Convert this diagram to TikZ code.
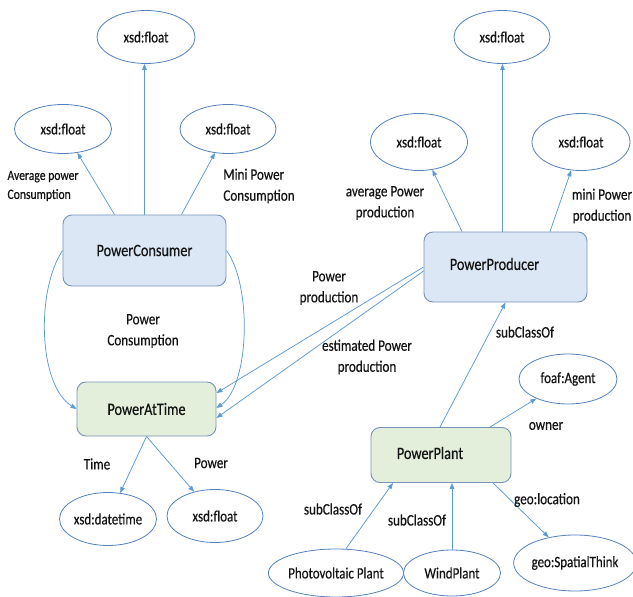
\documentclass[tikz,border=0pt]{standalone}
\usepackage{fontspec}
\setmainfont{Carlito}[FakeStretch=0.82,FakeBold=0.4]
\usetikzlibrary{shapes.geometric,arrows.meta,calc}
\definecolor{bluefill}{RGB}{220,231,245}
\definecolor{greenfill}{RGB}{227,239,218}
\definecolor{boxline}{RGB}{118,148,188}
\definecolor{ellline}{RGB}{84,130,190}
\definecolor{arrcol}{RGB}{91,155,213}
\definecolor{txt}{RGB}{20,20,20}
\tikzset{
  classbox/.style={draw=boxline, line width=0.9pt, rounded corners=9pt, inner sep=0pt, text=txt, font=\fontsize{17.4}{20}\selectfont},
  bluebox/.style={classbox, fill=bluefill},
  greenbox/.style={classbox, fill=greenfill},
  valell/.style={ellipse, draw=ellline, line width=0.8pt, fill=white, inner sep=0pt, text=txt, font=\fontsize{15.8}{18}\selectfont},
  lbl/.style={inner sep=0pt, text=txt, align=center, font=\fontsize{16}{21}\selectfont},
  lbll/.style={lbl, align=left},
  smalllbl/.style={inner sep=0pt, text=txt, align=left, font=\fontsize{14.2}{19}\selectfont},
  arr/.style={draw=arrcol, line width=0.75pt, -{Triangle[length=6pt,width=4.5pt]}},
}
\begin{document}
\begin{tikzpicture}[x=1pt,y=-1pt]
\useasboundingbox[fill=white] (0,0) rectangle (633,597);
% value ellipses, consumer side
\node[valell, minimum width=98pt, minimum height=53pt] (ftop) at (146,37) {xsd:float};
\node[valell, minimum width=97pt, minimum height=49pt] (fl) at (63,129) {xsd:float};
\node[valell, minimum width=96pt, minimum height=49pt] (fr) at (228,129) {xsd:float};
% value ellipses, producer side
\node[valell, minimum width=96pt, minimum height=53pt] (gtop) at (502,37) {xsd:float};
\node[valell, minimum width=97pt, minimum height=57pt] (gl) at (419,142) {xsd:float};
\node[valell, minimum width=98pt, minimum height=57pt] (gr) at (581,142) {xsd:float};
% classes
\node[bluebox, minimum width=163pt, minimum height=71pt] (pc) at (144.5,250.5) {PowerConsumer};
\node[greenbox, minimum width=139pt, minimum height=54pt] (pat) at (146.5,409) {PowerAtTime};
\node[bluebox, minimum width=163pt, minimum height=70pt] (pp) at (505.5,267) {};
\node[lbl, font=\fontsize{17.4}{20}\selectfont] (pptext) at (494.5,264) {PowerProducer};
\node[greenbox, minimum width=140pt, minimum height=55pt] (plant) at (441,455) {};
\node[lbl, font=\fontsize{17.4}{20}\selectfont] (planttext) at (430,453) {PowerPlant};
% other ellipses
\node[valell, minimum width=97pt, minimum height=53pt] (dt) at (108,519) {xsd:datetime};
\node[valell, minimum width=96pt, minimum height=53pt] (fb) at (215,516) {xsd:float};
\node[valell, minimum width=98pt, minimum height=50pt] (fa) at (568,379) {foaf:Agent};
\node[valell, minimum width=112pt, minimum height=48pt] (pv) at (336,573) {Photovoltaic Plant};
\node[valell, minimum width=97pt, minimum height=46pt] (wp) at (452,573) {WindPlant};
\node[valell, minimum width=95pt, minimum height=56pt] (st) at (575,563) {geo:SpatialThink};
% connectors, consumer
\draw[arr] (pc.north) -- (pc.north |- ftop.south);
\draw[arr] ([xshift=-30pt]pc.north) -- (fl);
\draw[arr] ([xshift=37pt]pc.north) -- (fr);
\draw[arr] (pc.west) .. controls (36,290) and (38,385) .. (pat.west);
\draw[arr] (pc.east) .. controls (252,285) and (250,385) .. ([yshift=1pt]pat.east);
% producer to PowerAtTime
\draw[arr] ([yshift=0pt]pp.west) -- ([yshift=16pt]pat.east);
\draw[arr] ([yshift=-4pt]pp.west) -- ([yshift=-9pt]pat.east);
% producer up
\draw[arr] ([xshift=-3pt]pp.north) -- ([xshift=-3pt]pp.north |- gtop.south);
\draw[arr] ([xshift=-43.5pt]pp.north) -- (gl);
\draw[arr] ([xshift=44.5pt]pp.north) -- (gr);
% plant
\draw[arr] ([xshift=-1pt]plant.north) -- (pp.south);
\draw[arr] ([xshift=49pt]plant.north) -- (fa);
\draw[arr] ([xshift=10pt]pv.north) -- ([xshift=-48pt]plant.south);
\draw[arr] (wp.north) -- (wp.north |- plant.south);
\draw[arr] ([xshift=52pt]plant.south) -- (st);
% PowerAtTime down
\draw[arr] (pat.south) -- (dt);
\draw[arr] (pat.south) -- (fb);
% labels
\node[smalllbl] (l1) at (43,186) {Average power\\Consumption};
\node[lbll] (l2) at (259,186) {Mini Power\\Consumption};
\node[lbl] (l3) at (143,331) {Power\\Consumption};
\node[lbl] (l4) at (329,288) {Power\\production};
\node[lbl] (l5) at (367,357) {estimated Power\\production};
\node[lbl] (l6) at (385,203) {average Power\\production};
\node[lbl] (l7) at (602,206) {mini Power\\production};
\node[lbl] (l8) at (525,332) {subClassOf};
\node[lbl] (l9) at (546,426) {owner};
\node[lbl] (l10) at (333,509) {subClassOf};
\node[lbl] (l11) at (417,520) {subClassOf};
\node[lbl] (l12) at (547,500) {geo:location};
\node[lbl] (l13) at (97,464) {Time};
\node[lbl] (l14) at (211,463) {Power};
\end{tikzpicture}
\end{document}
